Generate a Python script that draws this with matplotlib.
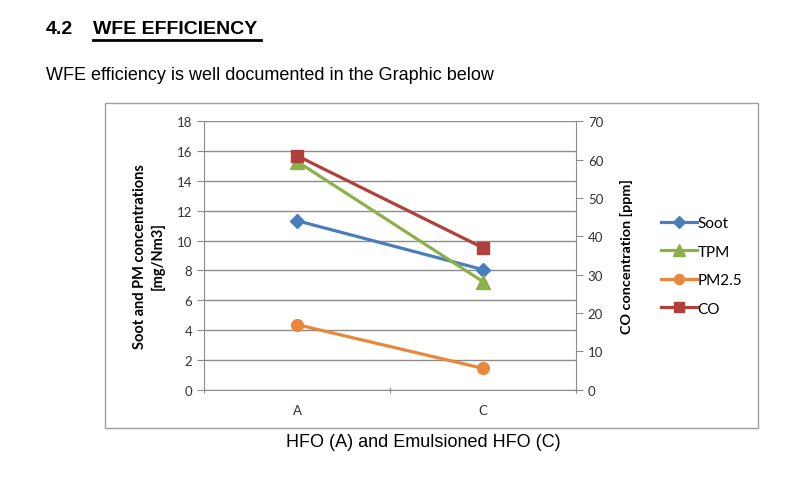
import matplotlib.pyplot as plt
from matplotlib.patches import Rectangle
from matplotlib.lines import Line2D

# data
categories = ["A", "C"]
soot = [11.33, 8.05]
tpm = [15.3, 7.24]
pm25 = [4.36, 1.43]
co = [61.0, 37.0]

c_soot = "#4A7EBB"
c_tpm = "#8DB04A"
c_pm = "#E8883D"
c_co = "#B0403C"
grid_c = "#8C8C8C"

plt.rcParams['font.family'] = ['Lato', 'DejaVu Sans']

fig = plt.figure(figsize=(8, 4.81), dpi=100)

# page text
fig.text(46 / 800, 1 - 30 / 481, "4.2", family="Liberation Sans", fontsize=14,
         fontweight="bold", va="center", ha="left")
fig.text(93 / 800, 1 - 30 / 481, "WFE EFFICIENCY", family="Liberation Sans", fontsize=14,
         fontweight="bold", va="center", ha="left")
fig.add_artist(Line2D([93 / 800, 261 / 800], [1 - 40.7 / 481] * 2, color="black", lw=2))
fig.text(46 / 800, 1 - 75 / 481, "WFE efficiency is well documented in the Graphic below",
         family="Liberation Sans", fontsize=13, va="center", ha="left")

# chart frame
fig.add_artist(Rectangle((105 / 800, 1 - 429 / 481), (758 - 105) / 800, (429 - 104) / 481,
                         transform=fig.transFigure, fill=False, ec="#A0A0A0", lw=1))

ax = fig.add_axes([204.3 / 800, 1 - 390.7 / 481, (576 - 204.3) / 800, (390.7 - 122.3) / 481])
ax2 = ax.twinx()

x = [0.5, 1.5]
lw = 2.3
h1, = ax.plot(x, soot, color=c_soot, lw=lw, marker="D", ms=7.5, label="Soot", zorder=3)
h2, = ax.plot(x, tpm, color=c_tpm, lw=lw, marker="^", ms=9.5, label="TPM", zorder=3)
h3, = ax.plot(x, pm25, color=c_pm, lw=lw, marker="o", ms=8.5, label="PM2.5", zorder=3)
h4, = ax2.plot(x, co, color=c_co, lw=lw, marker="s", ms=8, label="CO", zorder=3)

ax.set_xlim(0, 2)
ax.set_ylim(0, 18)
ax2.set_ylim(0, 70)
ax.set_yticks(range(0, 19, 2))
ax2.set_yticks(range(0, 71, 10))
ax.set_xticks([0, 1, 2])
ax.set_xticklabels([])
ax.set_xticks(x, minor=True)
ax.set_xticklabels(categories, minor=True)
ax.tick_params(axis="x", which="minor", length=0, pad=10)
ax.tick_params(axis="x", which="major", length=5, direction="inout", color=grid_c)
ax.tick_params(axis="y", length=5, color=grid_c, labelsize=9.5, labelcolor="#333333")
ax2.tick_params(axis="y", length=5, color=grid_c, labelsize=9.5, labelcolor="#333333")
ax.tick_params(axis="x", which="minor", labelsize=9.5, labelcolor="#333333")

ax.grid(axis="y", color=grid_c, lw=1)
ax.set_axisbelow(True)
for a in (ax, ax2):
    a.spines["top"].set_visible(False)
    for s in ("left", "right", "bottom"):
        a.spines[s].set_color(grid_c)
ax.spines["right"].set_visible(False)
ax2.spines["left"].set_visible(False)
ax2.spines["bottom"].set_visible(False)

ax.set_ylabel("Soot and PM concentrations\n[mg/Nm3]", fontsize=10.5, fontweight="bold",
              linespacing=1.3)
ax2.set_ylabel("CO concentration [ppm]", fontsize=10.4, fontweight="bold")
ax.yaxis.set_label_coords(-0.106, 0.5)
ax2.yaxis.set_label_coords(1.118, 0.5)

fig.text(423.5 / 800, 1 - 443 / 481, "HFO (A) and Emulsioned HFO (C)", family="Liberation Sans",
         fontsize=13, ha="center", va="center")

leg = fig.legend(handles=[h1, h2, h3, h4], loc="center left",
                 bbox_to_anchor=(647 / 800, 1 - 267 / 481), frameon=False,
                 fontsize=11, handlelength=2.35, handletextpad=0.05, labelspacing=0.95,
                 markerscale=0.85)

fig.savefig("out.png", dpi=100)
